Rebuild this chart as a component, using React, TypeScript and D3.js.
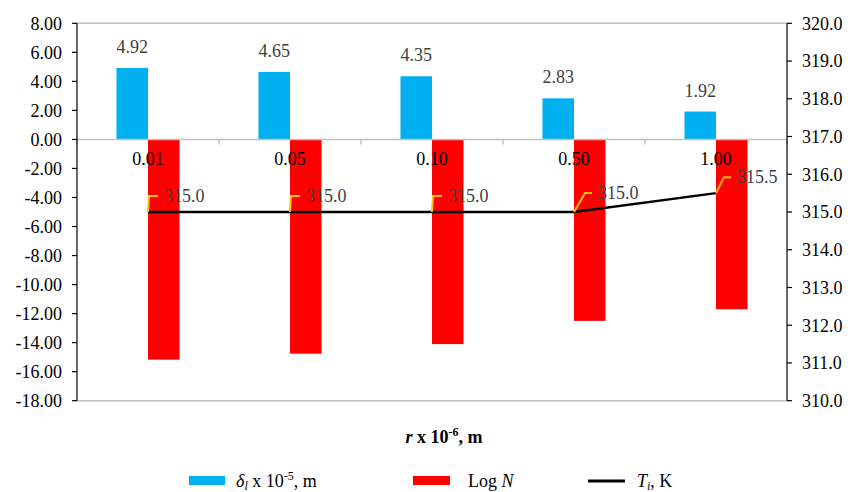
import React from "react";
import * as d3 from "d3";

// Particle radius categories (r x 10^-6, m)
const categories = ["0.01", "0.05", "0.10", "0.50", "1.00"];
// Layer thickness δl x 10^-5, m (left axis)
const deltaValues = [4.92, 4.65, 4.35, 2.83, 1.92];
// Log N (left axis)
const logNValues = [-15.17, -14.76, -14.1, -12.5, -11.7];
// Temperature Ti, K (right axis)
const tempValues = [315.0, 315.0, 315.0, 315.0, 315.5];
// Axis ticks
const leftTicks = [8, 6, 4, 2, 0, -2, -4, -6, -8, -10, -12, -14, -16, -18];
const rightTicks = [320, 319, 318, 317, 316, 315, 314, 313, 312, 311, 310];

// Callout leader geometry for the temperature labels (elbow offset, shoulder length, text offset)
const calloutLayout = [
  { ex: 1, ey: -16, sx: 9, tx: 16, ty: -16 },
  { ex: 1, ey: -16, sx: 9, tx: 16, ty: -16 },
  { ex: 1, ey: -16, sx: 9, tx: 16, ty: -16 },
  { ex: 11, ey: -19, sx: 7, tx: 24, ty: -19 },
  { ex: 8, ey: -16, sx: 7, tx: 21, ty: -16 },
];

const W = 848;
const H = 492;
const plotLeft = 77;
const plotRight = 787;
const plotTop = 23.3;
const plotBottom = 400.7;

const FONT = '"Liberation Serif", "DejaVu Serif", serif';
const FS = 18;
const BLUE = "#00B0F0";
const RED = "#FF0000";
const GRID = "#BFBFBF";
const LABEL = "#404040";

export default function App() {
  const x = d3.scaleBand<string>().domain(categories).range([plotLeft, plotRight]).padding(0);
  const yL = d3.scaleLinear().domain([-18, 8]).range([plotBottom, plotTop]);
  const yR = d3.scaleLinear().domain([310, 320]).range([plotBottom, plotTop]);
  const bw = x.bandwidth();
  const barW = bw * 0.222;
  const cx = (c: string) => (x(c) as number) + bw / 2;
  const y0 = yL(0);

  const line = d3
    .line<number>()
    .x((_, i) => cx(categories[i]))
    .y((d) => yR(d));

  const boundaries = categories.map((c) => x(c) as number).concat([plotRight]);
  const ts = { fontFamily: FONT };

  return (
    <svg
      width={W}
      height={H}
      style={{ position: "fixed", left: 0, top: 0, background: "#fff", fontFamily: FONT }}
    >
      <rect x={0} y={0} width={W} height={H} fill="#fff" />

      {/* frame lines */}
      <line x1={plotLeft} x2={plotRight} y1={plotTop} y2={plotTop} stroke={GRID} strokeWidth={1.5} />
      <line x1={plotLeft} x2={plotRight} y1={plotBottom} y2={plotBottom} stroke={GRID} strokeWidth={1.5} />

      {/* bars */}
      {categories.map((c, i) => (
        <rect
          key={"b" + c}
          x={cx(c) - barW}
          y={yL(deltaValues[i])}
          width={barW}
          height={y0 - yL(deltaValues[i])}
          fill={BLUE}
        />
      ))}
      {categories.map((c, i) => (
        <rect
          key={"r" + c}
          x={cx(c)}
          y={y0}
          width={barW}
          height={yL(logNValues[i]) - y0}
          fill={RED}
        />
      ))}

      {/* category axis on zero */}
      <line x1={plotLeft} x2={plotRight} y1={y0} y2={y0} stroke={GRID} strokeWidth={1.5} />
      {boundaries.map((b, i) => (
        <line key={"ct" + i} x1={b} x2={b} y1={y0} y2={y0 + 5} stroke={GRID} strokeWidth={1.5} />
      ))}
      {categories.map((c) => (
        <text key={"cl" + c} style={ts} x={cx(c)} y={y0 + 26} fontSize={FS} textAnchor="middle" fill="#000">
          {c}
        </text>
      ))}

      {/* left axis */}
      <line x1={plotLeft} x2={plotLeft} y1={plotTop} y2={plotBottom} stroke="#000" strokeWidth={1.2} />
      {leftTicks.map((t) => (
        <g key={"lt" + t}>
          <line x1={plotLeft - 5} x2={plotLeft} y1={yL(t)} y2={yL(t)} stroke="#000" strokeWidth={1.2} />
          <text style={ts} x={plotLeft - 15} y={yL(t)} dy="0.35em" fontSize={FS} textAnchor="end" fill="#000">
            {t.toFixed(2)}
          </text>
        </g>
      ))}

      {/* right axis */}
      <line x1={plotRight} x2={plotRight} y1={plotTop} y2={plotBottom} stroke="#000" strokeWidth={1.2} />
      {rightTicks.map((t) => (
        <g key={"rt" + t}>
          <line x1={plotRight} x2={plotRight + 5} y1={yR(t)} y2={yR(t)} stroke="#000" strokeWidth={1.2} />
          <text style={ts} x={plotRight + 15} y={yR(t)} dy="0.35em" fontSize={FS} textAnchor="start" fill="#000">
            {t.toFixed(1)}
          </text>
        </g>
      ))}

      {/* bar value labels */}
      {categories.map((c, i) => (
        <text
          key={"bl" + c}
          style={ts}
          x={cx(c) - barW / 2}
          y={yL(deltaValues[i]) - 15}
          fontSize={FS}
          textAnchor="middle"
          fill={LABEL}
        >
          {deltaValues[i].toFixed(2)}
        </text>
      ))}

      {/* temperature line */}
      <path d={line(tempValues) || ""} fill="none" stroke="#000" strokeWidth={2.5} />

      {/* temperature callouts */}
      {categories.map((c, i) => {
        const px = cx(c);
        const py = yR(tempValues[i]);
        const L = calloutLayout[i];
        return (
          <g key={"tl" + c}>
            <polyline
              points={`${px},${py} ${px + L.ex},${py + L.ey} ${px + L.ex + L.sx},${py + L.ey}`}
              fill="none"
              stroke="#FFC000"
              strokeWidth={2}
            />
            <text style={ts} x={px + L.tx} y={py + L.ty} dy="0.35em" fontSize={FS} fill={LABEL}>
              {tempValues[i].toFixed(1)}
            </text>
          </g>
        );
      })}

      {/* axis title */}
      <text style={ts} x={444} y={443} fontSize={18} fontWeight="bold" textAnchor="middle" fill="#000">
        <tspan fontStyle="italic">r</tspan>
        <tspan> x 10</tspan>
        <tspan fontSize={12} dy={-7}>-6</tspan>
        <tspan dy={7}>, m</tspan>
      </text>

      {/* legend */}
      <rect x={189} y={476} width={36} height={9} fill={BLUE} />
      <text style={ts} x={236} y={487} fontSize={FS} fill="#000">
        <tspan fontStyle="italic">δ</tspan>
        <tspan fontStyle="italic" fontSize={12} dy={3}>l</tspan>
        <tspan dy={-3}> x 10</tspan>
        <tspan fontSize={12} dy={-7}>-5</tspan>
        <tspan dy={7}>, m</tspan>
      </text>
      <rect x={413} y={476} width={37} height={9} fill={RED} />
      <text style={ts} x={468} y={487} fontSize={FS} fill="#000">
        <tspan>Log </tspan>
        <tspan fontStyle="italic">N</tspan>
      </text>
      <line x1={588} x2={625} y1={481} y2={481} stroke="#000" strokeWidth={3} />
      <text style={ts} x={637} y={487} fontSize={FS} fill="#000">
        <tspan fontStyle="italic">T</tspan>
        <tspan fontStyle="italic" fontSize={12} dy={3}>i</tspan>
        <tspan dy={-3}>, K</tspan>
      </text>
    </svg>
  );
}
